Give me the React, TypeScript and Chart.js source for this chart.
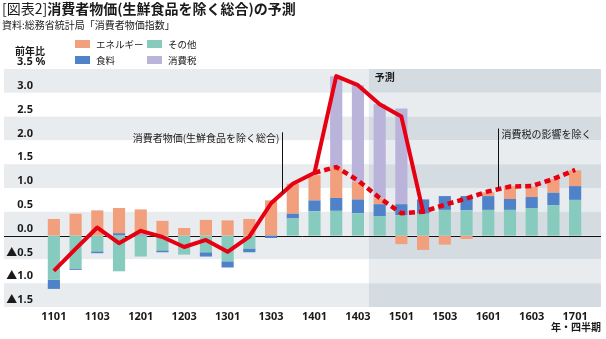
import React, { useEffect, useRef } from 'react';
import { Chart, registerables } from 'chart.js';

Chart.register(...registerables);

// ---- data ----
const quarters = [
  '1101', '1102', '1103', '1104',
  '1201', '1202', '1203', '1204',
  '1301', '1302', '1303', '1304',
  '1401', '1402', '1403', '1404',
  '1501', '1502', '1503', '1504',
  '1601', '1602', '1603', '1604',
  '1701',
];

// contributions (percentage points)
const other = [
  -0.93, -0.69, -0.33, -0.75, -0.44, -0.31, -0.40, -0.35, -0.54, -0.27, 0.0, 0.36,
  0.51, 0.52, 0.47, 0.41, 0.43, 0.46, 0.54, 0.53, 0.54, 0.54, 0.58, 0.64, 0.75,
];
const food = [
  -0.19, -0.03, -0.04, 0.05, 0.02, -0.04, 0.0, -0.09, -0.13, -0.08, -0.05, 0.10,
  0.23, 0.27, 0.29, 0.25, 0.23, 0.30, 0.29, 0.30, 0.29, 0.23, 0.23, 0.26, 0.29,
];
const energy = [
  0.35, 0.46, 0.53, 0.53, 0.53, 0.31, 0.16, 0.33, 0.32, 0.35, 0.74, 0.63,
  0.53, 0.65, 0.37, 0.12, -0.18, -0.30, -0.19, -0.07, 0.08, 0.27, 0.22, 0.29, 0.33,
];
const tax = [
  0, 0, 0, 0, 0, 0, 0, 0, 0, 0, 0, 0,
  0, 1.91, 2.03, 1.98, 2.01, 0, 0, 0, 0, 0, 0, 0, 0,
];

// core CPI (y/y %)
const coreCpi = [
  -0.74, -0.28, 0.17, -0.16, 0.10, -0.03, -0.24, -0.09, -0.34, -0.02, 0.68, 1.09,
  1.32, 3.35, 3.16, 2.76, 2.50, 0.50, null, null, null, null, null, null, null,
];
// core CPI excluding consumption tax effect
const coreExTax = [
  null, null, null, null, null, null, null, null, null, null, null, null,
  1.32, 1.44, 1.16, 0.79, 0.47, 0.50, 0.65, 0.78, 0.93, 1.03, 1.04, 1.19, 1.38,
];

const yMin = -1.5;
const yMax = 3.5;
const yStep = 0.5;
const forecastStartIndex = 15; // 1404

const legendItems = [
  { label: 'エネルギー', color: '#f29f7d' },
  { label: 'その他', color: '#86cbbd' },
  { label: '食料', color: '#4f82c9' },
  { label: '消費税', color: '#bab3da' },
];

const JP = '"Noto Sans CJK JP", "Noto Sans", sans-serif';
const NUM = '"Noto Sans", "Noto Sans CJK JP", sans-serif';

const decorPlugin = {
  id: 'decor',
  beforeDraw(chart: any) {
    const { ctx, scales } = chart;
    const x = scales.x;
    const y = scales.y;
    const left = 4;
    const right = 601;
    const split = (x.getPixelForValue(forecastStartIndex - 1) + x.getPixelForValue(forecastStartIndex)) / 2;
    const n = Math.round((yMax - yMin) / yStep);
    ctx.save();
    for (let k = 0; k < n; k++) {
      const vTop = yMax - k * yStep;
      const vBot = vTop - yStep;
      const yt = y.getPixelForValue(vTop);
      const yb = y.getPixelForValue(vBot);
      const gray = vTop > 0 ? k % 2 === 0 : k % 2 === 1;
      ctx.fillStyle = gray ? '#e9ecef' : '#ffffff';
      ctx.fillRect(left, yt, split - left, yb - yt);
      ctx.fillStyle = gray ? '#d5dce1' : '#e8ecef';
      ctx.fillRect(split, yt, right - split, yb - yt);
    }
    ctx.restore();
  },
  afterDatasetDraw(chart: any, args: any) {
    if (args.index !== 3) return;
    const { ctx, scales } = chart;
    const y0 = Math.round(scales.y.getPixelForValue(0)) + 0.5;
    ctx.save();
    ctx.strokeStyle = '#111';
    ctx.lineWidth = 1;
    ctx.beginPath();
    ctx.moveTo(4, y0);
    ctx.lineTo(601, y0);
    ctx.stroke();
    ctx.restore();
  },
  afterDraw(chart: any) {
    const { ctx, scales } = chart;
    const x = scales.x;
    const y = scales.y;
    const w = x.getPixelForValue(1) - x.getPixelForValue(0);
    const xAt = (i: number) => x.getPixelForValue(0) + i * w;
    ctx.save();
    ctx.fillStyle = '#1a1a1a';
    ctx.textBaseline = 'middle';

    // title
    ctx.font = `14px ${JP}`;
    ctx.textAlign = 'left';
    const t1 = '[図表2]';
    ctx.fillText(t1, 2, 9);
    const w1 = ctx.measureText(t1).width;
    ctx.font = `bold 14px ${JP}`;
    ctx.fillText('消費者物価(生鮮食品を除く総合)の予測', 2 + w1, 9);

    // source
    ctx.font = `10px ${JP}`;
    ctx.fillText('資料:総務省統計局「消費者物価指数」', 2, 25);

    // unit
    ctx.font = `bold 10px ${JP}`;
    ctx.fillText('前年比', 15, 51);
    ctx.font = `bold 11px ${NUM}`;
    ctx.fillText('3.5 %', 17, 62);

    // legend
    const cols = [75, 147];
    const rows = [44, 60];
    legendItems.forEach((it, i) => {
      const cx = cols[i % 2];
      const cy = rows[Math.floor(i / 2)];
      ctx.fillStyle = it.color;
      ctx.fillRect(cx, cy - 4, 15, 8);
      ctx.fillStyle = '#1a1a1a';
      ctx.font = `9.5px ${JP}`;
      ctx.fillText(it.label, cx + 21, cy);
    });

    // forecast label
    const split = (x.getPixelForValue(forecastStartIndex - 1) + x.getPixelForValue(forecastStartIndex)) / 2;
    ctx.font = `bold 10px ${JP}`;
    ctx.fillText('予測', split + 6, y.getPixelForValue(3.33));

    // annotation 1
    ctx.strokeStyle = '#111';
    ctx.lineWidth = 1;
    const ax1 = Math.round(xAt(10.5)) + 0.5;
    ctx.beginPath();
    ctx.moveTo(ax1, y.getPixelForValue(2.17));
    ctx.lineTo(ax1, y.getPixelForValue(0.89));
    ctx.stroke();
    ctx.font = `10px ${JP}`;
    ctx.textAlign = 'right';
    ctx.fillText('消費者物価(生鮮食品を除く総合)', ax1 - 3, y.getPixelForValue(2.04));

    // annotation 2
    const ax2 = Math.round(xAt(20.45)) + 0.5;
    ctx.beginPath();
    ctx.moveTo(ax2, y.getPixelForValue(2.25));
    ctx.lineTo(ax2, y.getPixelForValue(0.99));
    ctx.stroke();
    ctx.textAlign = 'left';
    ctx.fillText('消費税の影響を除く', ax2 + 3, y.getPixelForValue(2.12));

    // x axis unit
    ctx.font = `bold 10px ${JP}`;
    ctx.textAlign = 'right';
    ctx.fillText('年・四半期', 601, 327);
    ctx.restore();
  },
};

export default function App() {
  const ref = useRef<HTMLCanvasElement | null>(null);

  useEffect(() => {
    document.body.style.margin = '0';
    if (!ref.current) return;
    const chart = new Chart(ref.current, {
      type: 'bar',
      data: {
        labels: quarters,
        datasets: [
          { type: 'bar', label: 'その他', data: other, backgroundColor: '#86cbbd', stack: 'bars', order: 1 },
          { type: 'bar', label: '食料', data: food, backgroundColor: '#4f82c9', stack: 'bars', order: 1 },
          { type: 'bar', label: 'エネルギー', data: energy, backgroundColor: '#f29f7d', stack: 'bars', order: 1 },
          { type: 'bar', label: '消費税', data: tax, backgroundColor: '#bab3da', stack: 'bars', order: 1 },
          {
            type: 'line', label: '消費者物価(生鮮食品を除く総合)', data: coreCpi as any,
            borderColor: '#e60012', borderWidth: 4, pointRadius: 0, tension: 0,
            borderJoinStyle: 'round', stack: 'l1', order: 0, spanGaps: false,
          },
          {
            type: 'line', label: '消費税の影響を除く', data: coreExTax as any,
            borderColor: '#e60012', borderWidth: 4.5, borderDash: [6, 4], pointRadius: 0, tension: 0,
            stack: 'l2', order: 0, spanGaps: false,
          },
        ],
      } as any,
      options: {
        responsive: false,
        devicePixelRatio: 1,
        animation: false,
        layout: { padding: { top: 69, right: 20, bottom: 0, left: 0 } },
        plugins: { legend: { display: false }, tooltip: { enabled: false }, title: { display: false } },
        datasets: { bar: { barPercentage: 0.56, categoryPercentage: 1.0 } },
        scales: {
          x: {
            stacked: true,
            offset: true,
            grid: { display: false, drawTicks: false },
            border: { display: false },
            ticks: {
              autoSkip: false,
              maxRotation: 0,
              padding: 3,
              color: '#1a1a1a',
              font: { family: NUM, size: 11, weight: 'bold' },
              callback: (_v: any, i: number) => (i % 2 === 0 ? quarters[i] : ''),
            },
            afterFit: (s: any) => { s.height = 32; },
          },
          y: {
            stacked: true,
            min: yMin,
            max: yMax,
            grid: { display: false, drawTicks: false },
            border: { display: false },
            ticks: {
              stepSize: yStep,
              padding: 10,
              labelOffset: -7,
              color: '#1a1a1a',
              font: { family: NUM, size: 11, weight: 'bold' },
              callback: (v: any) => {
                const n = Number(v);
                if (Math.abs(n - yMax) < 1e-9) return '';
                return n < 0 ? '▲' + Math.abs(n).toFixed(1) : n.toFixed(1);
              },
            },
            afterFit: (s: any) => { s.width = 43; },
          },
        },
      } as any,
      plugins: [decorPlugin],
    });
    return () => chart.destroy();
  }, []);

  return (
    <div style={{ width: 606, height: 339 }}>
      <canvas ref={ref} width={606} height={339} />
    </div>
  );
}
